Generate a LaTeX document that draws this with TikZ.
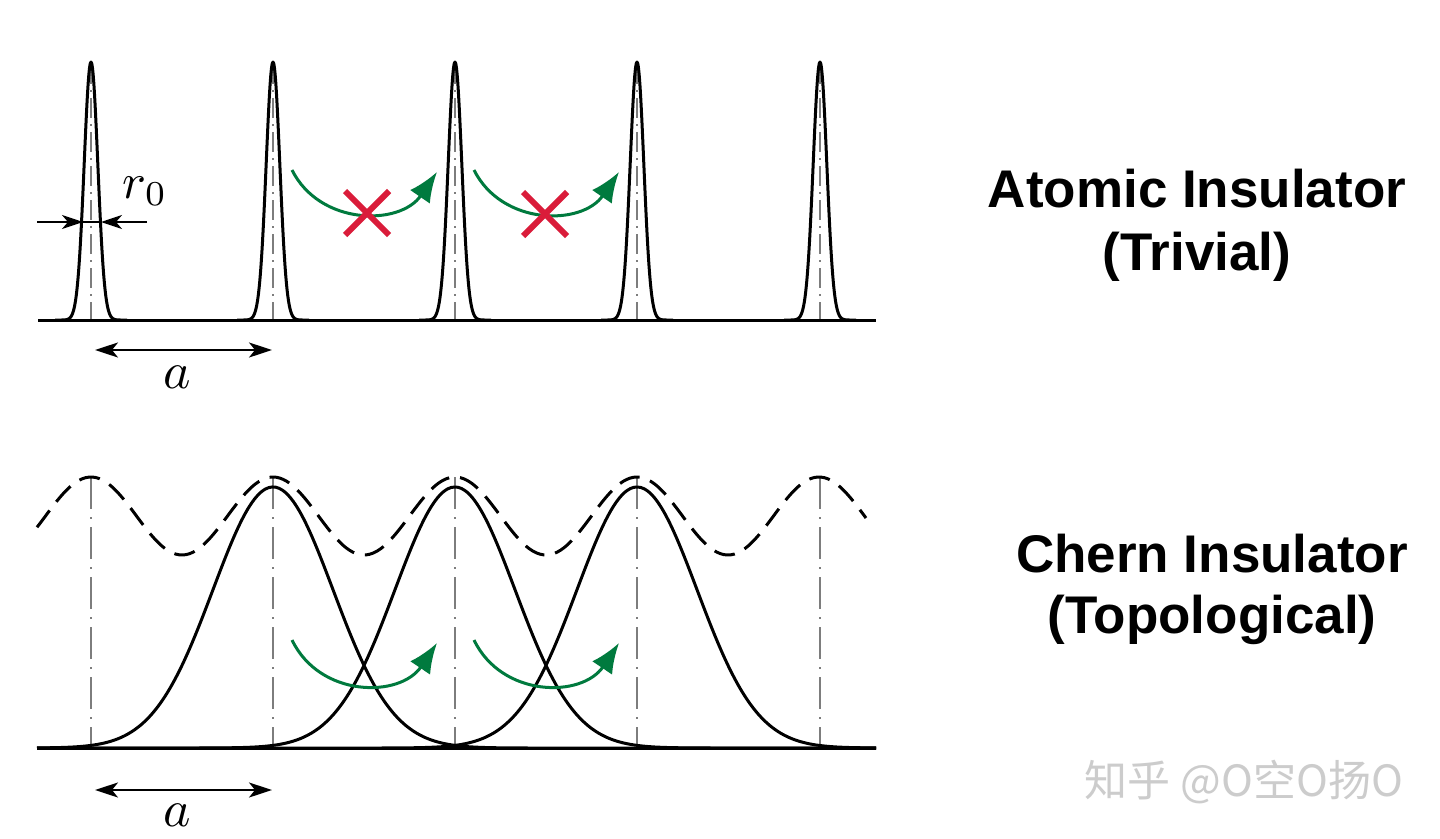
\documentclass[tikz,border=0pt]{standalone}
\usepackage{graphicx}
\usepackage{fontspec}
\setmainfont{Liberation Sans}
\newfontfamily\cjk{Noto Sans CJK SC}
\usetikzlibrary{arrows.meta}
\definecolor{hopgreen}{RGB}{0,122,62}
\definecolor{xred}{RGB}{218,28,58}
\definecolor{axisgray}{RGB}{125,125,125}
\begin{document}
\begin{tikzpicture}[x=1pt,y=-1pt,
  curve/.style={line width=3pt, line join=round},
  centerline/.style={axisgray, line width=1.8pt, dash pattern=on 20pt off 6pt on 2pt off 6pt},
  centerlinelong/.style={axisgray, line width=1.8pt, dash pattern=on 32pt off 8pt on 2pt off 8pt},
  envelope/.style={line width=3pt, dash pattern=on 21pt off 11pt},
  hop/.style={hopgreen, line width=3pt, -{Latex[length=30pt,width=24pt]}},
  cross/.style={xred, line width=6pt},
  dimarrow/.style={line width=2pt, {Stealth[length=23pt,width=15pt,inset=6pt]}-{Stealth[length=23pt,width=15pt,inset=6pt]}},
  tick/.style={line width=2pt, -{Stealth[length=21pt,width=14pt,inset=6pt]}},
  title/.style={font=\fontsize{53}{60}\selectfont\bfseries, anchor=base},
  mathlbl/.style={inner sep=0pt}]
\useasboundingbox (0,0) rectangle (1440,838);
\fill[white] (0,0) rectangle (1440,838);

% ---------- top panel: atomic insulator ----------
\foreach \c in {91,273,455,637,820}
  \draw[centerline] (\c,64) -- (\c,320);
\draw[curve] (38,320) -- (876,320);
\foreach \c in {91,273,455,637,820}{
  \pgfmathsetmacro{\lo}{\c-36}
  \pgfmathsetmacro{\hi}{\c+36}
  \draw[curve] plot[domain=\lo:\hi, samples=97, smooth]
     (\x,{320-258*exp(-0.5*((\x-\c)/6.8)^2)});
}
% r0 width marker
\coordinate (rl) at (37,222);
\coordinate (rlt) at (83,222);
\coordinate (rr) at (147,222);
\coordinate (rrt) at (101,222);
\draw[line width=2pt] (rlt) -- (rrt);
\draw[tick] (rl) -- (rlt);
\draw[tick] (rr) -- (rrt);
\node[mathlbl] (r0) at (145,191) {\scalebox{5}{$r_0$}};
% lattice constant
\coordinate (a1l) at (95,350);
\coordinate (a1r) at (272,350);
\draw[dimarrow] (a1l) -- (a1r);
\node[mathlbl] (a1) at (177,377) {\scalebox{5.2}{$a$}};
% blocked hopping
\coordinate (h1s) at (292,170);
\coordinate (h1e) at (437,172);
\coordinate (h2s) at (474,170);
\coordinate (h2e) at (619,172);
\draw[hop] (h1s) .. controls (320,226) and (400,226) .. (h1e);
\draw[hop] (h2s) .. controls (502,226) and (582,226) .. (h2e);
\draw[cross] (345,191) -- (389,235) (345,235) -- (389,191);
\draw[cross] (523,192) -- (567,236) (523,236) -- (567,192);

\node[title] (t1) at (1197,207) {Atomic Insulator};
\node[title] (t2) at (1197,270) {(Trivial)};

% ---------- bottom panel: Chern insulator ----------
\foreach \c in {91,273,455,637,820}
  \draw[centerlinelong] (\c,477) -- (\c,748);
\draw[envelope] plot[domain=37:866, samples=240, smooth]
   (\x,{516-39*cos(1.978022*(\x-91))});
\draw[curve] (37,748) -- (876,748);
\foreach \c in {273,455,637}
  \draw[curve] plot[domain=37:876, samples=240, smooth]
     (\x,{748-261*exp(-0.5*((\x-\c)/60)^2)});
% hopping allowed
\coordinate (h3s) at (292,640);
\coordinate (h3e) at (437,643);
\coordinate (h4s) at (474,640);
\coordinate (h4e) at (619,643);
\draw[hop] (h3s) .. controls (320,698) and (400,698) .. (h3e);
\draw[hop] (h4s) .. controls (502,698) and (582,698) .. (h4e);
% lattice constant
\coordinate (a2l) at (95,790);
\coordinate (a2r) at (272,790);
\draw[dimarrow] (a2l) -- (a2r);
\node[mathlbl] (a2) at (177,815) {\scalebox{5.2}{$a$}};

\node[title] (t3) at (1212,572) {Chern Insulator};
\node[title] (t4) at (1212,633) {(Topological)};

\node[font=\cjk\fontsize{43}{43}\selectfont, text=gray!40, anchor=base] (wm) at (1244,796) {知乎 @O空O扬O};
\end{tikzpicture}
\end{document}
